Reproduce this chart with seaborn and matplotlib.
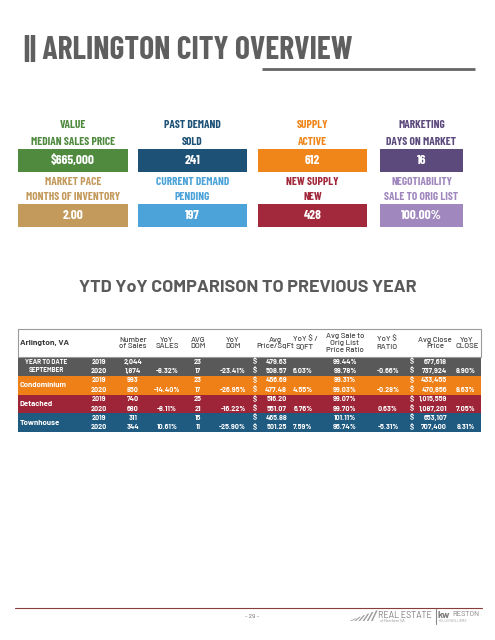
import matplotlib
matplotlib.use("Agg")
import matplotlib.pyplot as plt
from matplotlib.patches import Rectangle, Polygon
from matplotlib.colors import ListedColormap
import numpy as np
import pandas as pd
import seaborn as sns

# ---------------- data ----------------
kpi_titles = ["VALUE", "PAST DEMAND", "SUPPLY", "MARKETING",
              "MARKET PACE", "CURRENT DEMAND", "NEW SUPPLY", "NEGOTIABILITY"]
kpi_subtitles = ["MEDIAN SALES PRICE", "SOLD", "ACTIVE", "DAYS ON MARKET",
                 "MONTHS OF INVENTORY", "PENDING", "NEW", "SALE TO ORIG LIST"]
kpi_values = ["$665,000", "241", "612", "16", "2.00", "197", "428", "100.00%"]
kpi_colors = ["#4f8a3f", "#1e5176", "#f0861a", "#5c4a7d",
              "#c39a5c", "#4ba3d9", "#a2293b", "#a088be"]

headers = ["Number\nof Sales", "YoY\nSALES", "AVG\nDOM", "YoY\nDOM",
           "Avg\nPrice/SqFt", "YoY $ /\nSQFT", "Avg Sale to\nOrig List\nPrice Ratio",
           "YoY $\nRATIO", "Avg Close\nPrice", "YoY\nCLOSE"]
groups = ["YEAR TO DATE\nSEPTEMBER", "Condominium", "Detached", "Townhouse"]
group_colors = ["#595959", "#ef7f17", "#9d2537", "#1f5a80"]
years = ["2019", "2020"] * 4
num_sales = ["2,044", "1,874", "993", "850", "740", "680", "311", "344"]
yoy_sales = ["", "-8.32%", "", "-14.40%", "", "-8.11%", "", "10.61%"]
avg_dom = ["23", "17", "23", "17", "25", "21", "15", "11"]
yoy_dom = ["", "-23.41%", "", "-26.95%", "", "-16.22%", "", "-25.90%"]
price_sqft = ["479.63", "508.57", "456.69", "477.48", "516.20", "551.07", "465.88", "501.25"]
yoy_sqft = ["", "6.03%", "", "4.55%", "", "6.76%", "", "7.59%"]
sale_ratio = ["99.44%", "98.78%", "99.31%", "99.03%", "99.07%", "99.70%", "101.11%", "95.74%"]
yoy_ratio = ["", "-0.66%", "", "-0.28%", "", "0.63%", "", "-5.31%"]
close_price = ["677,618", "737,924", "433,455", "470,856", "1,015,559", "1,087,201", "653,107", "707,400"]
yoy_close = ["", "8.90%", "", "8.63%", "", "7.05%", "", "8.31%"]
row_group = [0, 0, 1, 1, 2, 2, 3, 3]

# ---------------- figure ----------------
sns.set_theme(style="white")
COND = ["Barlow Condensed", "Roboto Condensed", "Archivo Narrow", "Asap Condensed", "DejaVu Sans"]
DIN = ["Barlow", "Roboto", "Liberation Sans", "DejaVu Sans"]
plt.rcParams["font.family"] = DIN

W, H = 495, 640
fig = plt.figure(figsize=(W / 100, H / 100), dpi=100)
fig.patch.set_facecolor("white")

# table body as seaborn heatmap
T_L, T_R, T_TOP, T_BOT = 18, 481, 357, 432
hax = fig.add_axes([T_L / W, 1 - T_BOT / H, (T_R - T_L) / W, (T_BOT - T_TOP) / H])
mat = pd.DataFrame(np.array(row_group).reshape(-1, 1))
sns.heatmap(mat, ax=hax, cmap=ListedColormap(group_colors), vmin=-0.5, vmax=3.5,
            cbar=False, xticklabels=False, yticklabels=False, linewidths=0)
hax.set_axis_off()

ax = fig.add_axes([0, 0, 1, 1])
ax.set_xlim(0, W)
ax.set_ylim(H, 0)
ax.set_axis_off()
ax.patch.set_alpha(0)

# title
ax.text(24, 50, "|| ARLINGTON CITY OVERVIEW", family=COND, fontweight="bold",
        fontsize=22.8, color="#5f5f5f", va="center", ha="left")
ax.plot([262, 475], [69, 69], color="#666666", lw=2, solid_capstyle="butt")

# KPI boxes
box_x = [(18, 128), (138, 247), (258, 367), (380, 463)]
box_rows = [(149, 172), (204, 227)]
label_y = [(125, 142), (182, 197)]
for i in range(8):
    r, c = divmod(i, 4)
    x0, x1 = box_x[c]
    y0, y1 = box_rows[r]
    ax.add_patch(Rectangle((x0, y0), x1 - x0, y1 - y0, color=kpi_colors[i], lw=0))
    cx = (x0 + x1) / 2
    ax.text(cx, label_y[r][0], kpi_titles[i], family=COND, fontweight="bold",
            fontsize=8.2, color=kpi_colors[i], ha="center", va="center")
    ax.text(cx, label_y[r][1], kpi_subtitles[i], family=COND, fontweight="bold",
            fontsize=8.2, color=kpi_colors[i], ha="center", va="center")
    ax.text(cx, (y0 + y1) / 2, kpi_values[i], family=COND, fontweight="bold",
            fontsize=9.5, color="white", ha="center", va="center")

# subtitle
ax.text(248, 288, "YTD YoY COMPARISON TO PREVIOUS YEAR", family=DIN, fontweight="bold",
        fontsize=12.9, color="#5a5a5a", ha="center", va="center")

# table header
ax.add_patch(Rectangle((T_L, 329), T_R - T_L, T_TOP - 329, fill=False,
                       edgecolor="#9a9a9a", lw=0.8))
ax.text(20, 343, "Arlington, VA", fontweight="bold", fontsize=6, color="#3a3a3a",
        ha="left", va="center")
hdr_x = [133, 167, 198, 233, 275, 305, 345, 387, 435, 467]
for hx, h in zip(hdr_x, headers):
    ax.text(hx, 343, h, fontsize=5.7, color="#444444", ha="center", va="center",
            fontweight="medium", linespacing=1.15)

# table rows
row_h = (T_BOT - T_TOP) / 8
tk = dict(fontsize=5.2, color="white", va="center", fontweight="bold")
for i in range(8):
    y = T_TOP + (i + 0.5) * row_h
    ax.text(99, y, years[i], ha="center", **tk)
    ax.text(133, y, num_sales[i], ha="center", **tk)
    ax.text(167, y, yoy_sales[i], ha="center", **tk)
    ax.text(198, y, avg_dom[i], ha="center", **tk)
    ax.text(246, y, yoy_dom[i], ha="right", **tk)
    ax.text(253, y, "$", ha="left", **tk)
    ax.text(287, y, price_sqft[i], ha="right", **tk)
    ax.text(303, y, yoy_sqft[i], ha="center", **tk)
    ax.text(345, y, sale_ratio[i], ha="center", **tk)
    ax.text(388, y, yoy_ratio[i], ha="center", **tk)
    ax.text(410, y, "$", ha="left", **tk)
    ax.text(447, y, close_price[i], ha="right", **tk)
    ax.text(466, y, yoy_close[i], ha="center", **tk)

for g, name in enumerate(groups):
    y = T_TOP + (2 * g + 1) * row_h
    if g == 0:
        ax.text(46, y, name, ha="center", va="center", fontsize=4.7, color="white",
                fontweight="bold", linespacing=1.45)
    else:
        ax.text(20, y, name, ha="left", va="center", fontsize=5.6, color="white",
                fontweight="bold")

# footer
ax.plot([15, 482], [608, 608], color="#8a3b3b", lw=0.8)
ax.text(252, 617, "- 29 -", fontsize=4.5, color="#666666", ha="center", va="center")
for k in range(6):
    x0 = 350 + k * 4.2
    top = 620 - (k + 1) * 1.6
    ax.add_patch(Polygon([(x0, 621), (x0 + 5, top), (x0 + 6.6, top), (x0 + 1.6, 621)],
                         closed=True, color="#9a9a9a", lw=0))
ax.text(378, 615, "REAL ESTATE", fontsize=6.3, color="#7a7a7a", ha="left", va="center")
ax.text(380, 621.5, "of Northern VA", fontsize=2.8, color="#8a8a8a", ha="left", va="center")
ax.plot([435.5, 435.5], [609, 624], color="#8a8a8a", lw=0.8)
ax.text(438, 615, "kw", fontsize=6.8, fontweight="bold", color="#7a7a7a", ha="left", va="center")
ax.text(452, 615, "RESTON", fontsize=5.3, color="#7a7a7a", ha="left", va="center")
ax.text(439, 621.5, "KELLERWILLIAMS", fontsize=2.5, color="#9a9a9a", ha="left", va="center")

fig.savefig("out.png", dpi=100, facecolor="white")
